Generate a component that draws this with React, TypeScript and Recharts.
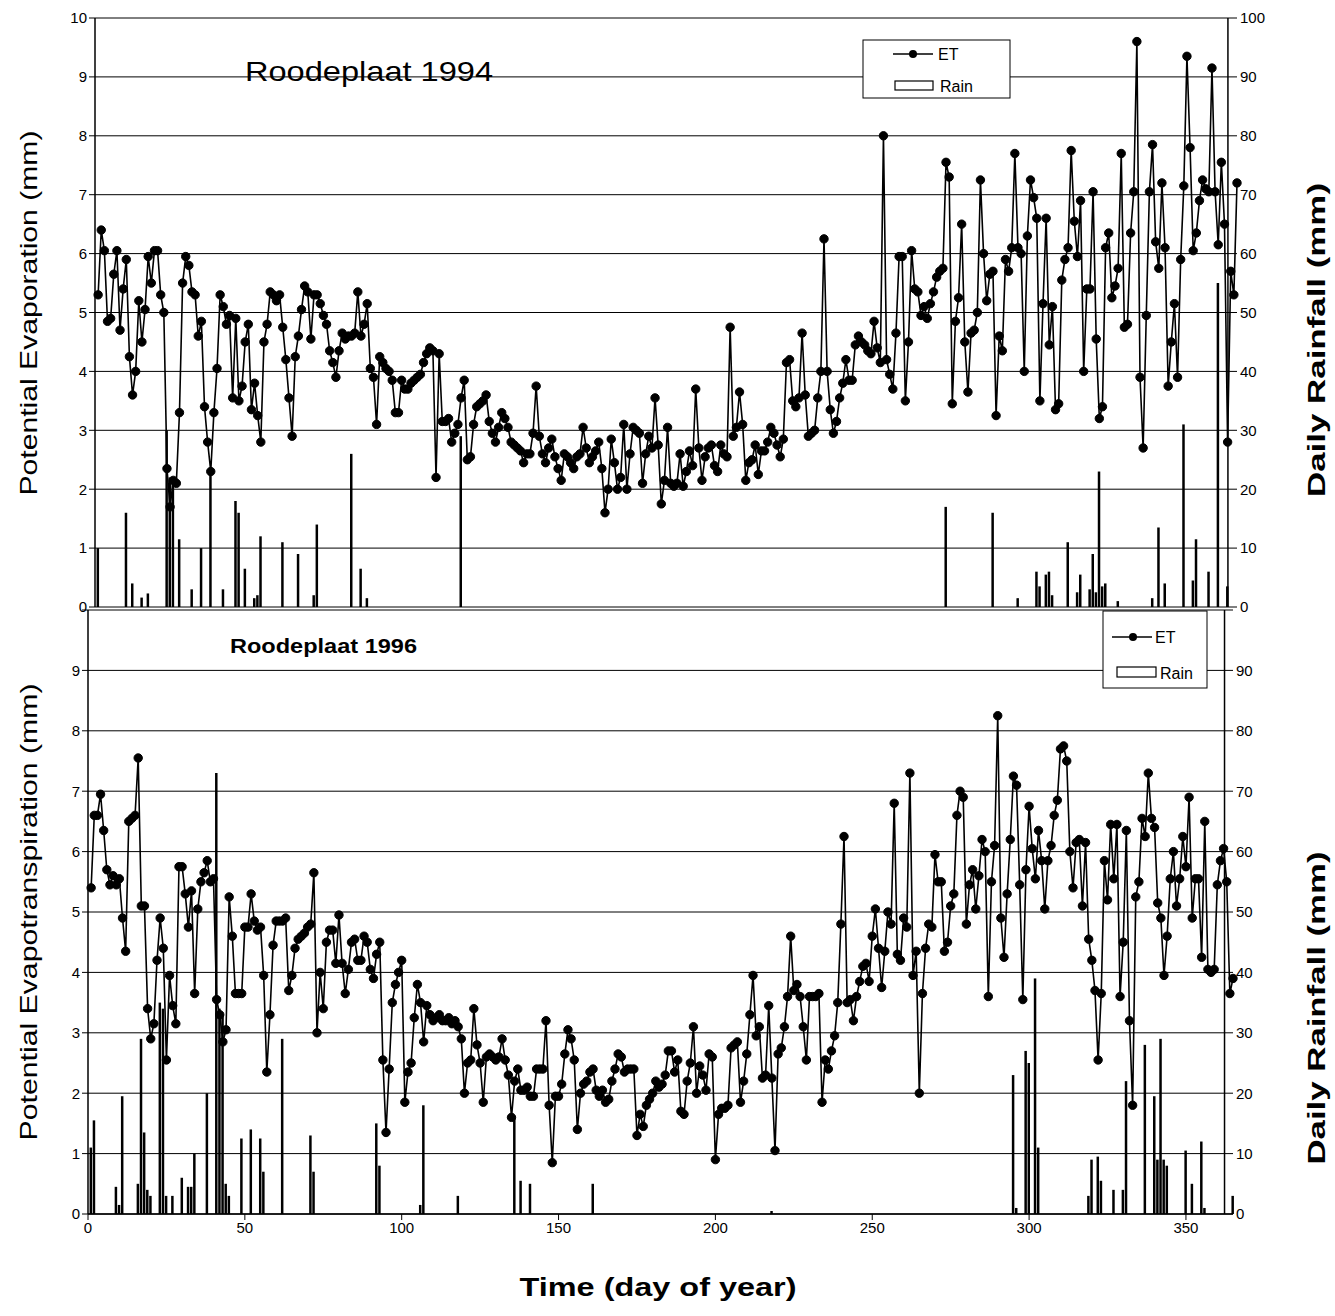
import React from 'react';
import { ComposedChart, Line, Bar, XAxis, YAxis, CartesianGrid, ReferenceLine } from 'recharts';

const FONT = "'Liberation Sans', Arial, sans-serif";

// Roodeplaat 1994 – potential evaporation (mm), day 1..365
const et1994: number[] = [
  5.3, 6.4, 6.05, 4.85, 4.9, 5.65, 6.05, 4.7, 5.4, 5.9,
  4.25, 3.6, 4.0, 5.2, 4.5, 5.05, 5.95, 5.5, 6.05, 6.05,
  5.3, 5.0, 2.35, 1.7, 2.15, 2.1, 3.3, 5.5, 5.95, 5.8,
  5.35, 5.3, 4.6, 4.85, 3.4, 2.8, 2.3, 3.3, 4.05, 5.3,
  5.1, 4.8, 4.95, 3.55, 4.9, 3.5, 3.75, 4.5, 4.8, 3.35,
  3.8, 3.25, 2.8, 4.5, 4.8, 5.35, 5.3, 5.2, 5.3, 4.75,
  4.2, 3.55, 2.9, 4.25, 4.6, 5.05, 5.45, 5.35, 4.55, 5.3,
  5.3, 5.15, 4.95, 4.8, 4.35, 4.15, 3.9, 4.35, 4.65, 4.55,
  4.6, 4.6, 4.65, 5.35, 4.6, 4.8, 5.15, 4.05, 3.9, 3.1,
  4.25, 4.15, 4.05, 4.0, 3.85, 3.3, 3.3, 3.85, 3.7, 3.7,
  3.8, 3.85, 3.9, 3.95, 4.15, 4.3, 4.4, 4.35, 2.2, 4.3,
  3.15, 3.15, 3.2, 2.8, 2.95, 3.1, 3.55, 3.85, 2.5, 2.55,
  3.1, 3.4, 3.45, 3.5, 3.6, 3.15, 2.95, 2.8, 3.05, 3.3,
  3.2, 3.05, 2.8, 2.75, 2.7, 2.65, 2.45, 2.6, 2.6, 2.95,
  3.75, 2.9, 2.6, 2.45, 2.7, 2.85, 2.55, 2.35, 2.15, 2.6,
  2.55, 2.45, 2.35, 2.55, 2.6, 3.05, 2.7, 2.45, 2.55, 2.65,
  2.8, 2.35, 1.6, 2.0, 2.85, 2.45, 2.0, 2.2, 3.1, 2.0,
  2.6, 3.05, 3.0, 2.95, 2.1, 2.6, 2.9, 2.7, 3.55, 2.75,
  1.75, 2.15, 3.05, 2.1, 2.05, 2.1, 2.6, 2.05, 2.3, 2.65,
  2.4, 3.7, 2.7, 2.15, 2.55, 2.7, 2.75, 2.4, 2.3, 2.75,
  2.6, 2.55, 4.75, 2.9, 3.05, 3.65, 3.1, 2.15, 2.45, 2.5,
  2.75, 2.25, 2.65, 2.65, 2.8, 3.05, 2.95, 2.75, 2.55, 2.85,
  4.15, 4.2, 3.5, 3.4, 3.55, 4.65, 3.6, 2.9, 2.95, 3.0,
  3.55, 4.0, 6.25, 4.0, 3.35, 2.95, 3.15, 3.55, 3.8, 4.2,
  3.85, 3.85, 4.45, 4.6, 4.5, 4.45, 4.35, 4.3, 4.85, 4.4,
  4.15, 8.0, 4.2, 3.95, 3.7, 4.65, 5.95, 5.95, 3.5, 4.5,
  6.05, 5.4, 5.35, 4.95, 5.1, 4.9, 5.15, 5.35, 5.6, 5.7,
  5.75, 7.55, 7.3, 3.45, 4.85, 5.25, 6.5, 4.5, 3.65, 4.65,
  4.7, 5.0, 7.25, 6.0, 5.2, 5.65, 5.7, 3.25, 4.6, 4.35,
  5.9, 5.7, 6.1, 7.7, 6.1, 6.0, 4.0, 6.3, 7.25, 6.95,
  6.6, 3.5, 5.15, 6.6, 4.45, 5.1, 3.35, 3.45, 5.55, 5.9,
  6.1, 7.75, 6.55, 5.95, 6.9, 4.0, 5.4, 5.4, 7.05, 4.55,
  3.2, 3.4, 6.1, 6.35, 5.25, 5.45, 5.75, 7.7, 4.75, 4.8,
  6.35, 7.05, 9.6, 3.9, 2.7, 4.95, 7.05, 7.85, 6.2, 5.75,
  7.2, 6.1, 3.75, 4.5, 5.15, 3.9, 5.9, 7.15, 9.35, 7.8,
  6.05, 6.35, 6.9, 7.25, 7.1, 7.05, 9.15, 7.05, 6.15, 7.55,
  6.5, 2.8, 5.7, 5.3, 7.2,
];

const rain1994Days: number[] = [
  1, 10, 12, 15, 17, 23, 24, 25, 27, 31, 34, 37, 41, 45, 46, 48, 51, 52, 53, 60,
  65, 70, 71, 82, 85, 87, 117, 272, 287, 295, 301, 302, 304, 305, 306, 311, 314, 315, 318, 319,
  320, 321, 322, 323, 327, 338, 340, 342, 348, 351, 352, 356, 359, 362,
];
const rain1994Mm: number[] = [
  10, 16, 4, 1.6, 2.3, 30, 22, 21, 11.5, 3, 10, 23, 3, 18, 16, 6.5, 1.5, 2, 12, 11,
  9, 2, 14, 26, 6.5, 1.5, 29, 17, 16, 1.5, 6, 3.5, 5.5, 6, 2, 11, 2.5, 5.5, 3, 9,
  2.5, 23, 3.5, 4, 1, 1.5, 13.5, 4, 31, 4.5, 11.5, 6, 55, 3.5,
];

// Roodeplaat 1996 – potential evapotranspiration (mm), day 1..365
const et1996: number[] = [
  5.4, 6.6, 6.6, 6.95, 6.35, 5.7, 5.45, 5.6, 5.45, 5.55,
  4.9, 4.35, 6.5, 6.55, 6.6, 7.55, 5.1, 5.1, 3.4, 2.9,
  3.15, 4.2, 4.9, 4.4, 2.55, 3.95, 3.45, 3.15, 5.75, 5.75,
  5.3, 4.75, 5.35, 3.65, 5.05, 5.5, 5.65, 5.85, 5.5, 5.55,
  3.55, 3.3, 2.85, 3.05, 5.25, 4.6, 3.65, 3.65, 3.65, 4.75,
  4.75, 5.3, 4.85, 4.7, 4.75, 3.95, 2.35, 3.3, 4.45, 4.85,
  4.85, 4.85, 4.9, 3.7, 3.95, 4.4, 4.55, 4.6, 4.65, 4.75,
  4.8, 5.65, 3.0, 4.0, 3.4, 4.5, 4.7, 4.7, 4.15, 4.95,
  4.15, 3.65, 4.05, 4.5, 4.55, 4.2, 4.2, 4.6, 4.5, 4.05,
  3.9, 4.3, 4.5, 2.55, 1.35, 2.4, 3.5, 3.8, 4.0, 4.2,
  1.85, 2.35, 2.5, 3.25, 3.8, 3.5, 2.85, 3.45, 3.3, 3.2,
  3.25, 3.3, 3.2, 3.2, 3.25, 3.15, 3.2, 3.1, 2.9, 2.0,
  2.5, 2.55, 3.4, 2.8, 2.5, 1.85, 2.6, 2.65, 2.6, 2.55,
  2.6, 2.9, 2.55, 2.3, 1.6, 2.2, 2.4, 2.05, 2.05, 2.1,
  1.95, 1.95, 2.4, 2.4, 2.4, 3.2, 1.8, 0.85, 1.95, 1.95,
  2.15, 2.65, 3.05, 2.9, 2.55, 1.4, 2.0, 2.15, 2.2, 2.35,
  2.4, 2.05, 1.95, 2.05, 1.85, 1.9, 2.2, 2.4, 2.65, 2.6,
  2.35, 2.4, 2.4, 2.4, 1.3, 1.65, 1.45, 1.8, 1.9, 2.0,
  2.2, 2.1, 2.15, 2.3, 2.7, 2.7, 2.35, 2.55, 1.7, 1.65,
  2.2, 2.5, 3.1, 2.0, 2.45, 2.3, 2.05, 2.65, 2.6, 0.9,
  1.65, 1.75, 1.75, 1.8, 2.75, 2.8, 2.85, 1.85, 2.2, 2.65,
  3.3, 3.95, 2.95, 3.1, 2.25, 2.3, 3.45, 2.25, 1.05, 2.65,
  2.75, 3.1, 3.6, 4.6, 3.7, 3.8, 3.6, 3.1, 2.55, 3.6,
  3.6, 3.6, 3.65, 1.85, 2.55, 2.4, 2.7, 2.95, 3.5, 4.8,
  6.25, 3.5, 3.55, 3.2, 3.6, 3.85, 4.1, 4.15, 3.85, 4.6,
  5.05, 4.4, 3.75, 4.35, 5.0, 4.8, 6.8, 4.3, 4.2, 4.9,
  4.75, 7.3, 3.95, 4.35, 2.0, 3.65, 4.4, 4.8, 4.75, 5.95,
  5.5, 5.5, 4.35, 4.5, 5.1, 5.3, 6.6, 7.0, 6.9, 4.8,
  5.45, 5.7, 5.05, 5.6, 6.2, 6.0, 3.6, 5.5, 6.1, 8.25,
  4.9, 4.25, 5.3, 6.2, 7.25, 7.1, 5.45, 3.55, 5.7, 6.75,
  6.05, 5.55, 6.35, 5.85, 5.05, 5.85, 6.1, 6.6, 6.85, 7.7,
  7.75, 7.5, 6.0, 5.4, 6.15, 6.2, 5.1, 6.15, 4.55, 4.2,
  3.7, 2.55, 3.65, 5.85, 5.2, 6.45, 5.55, 6.45, 3.6, 4.5,
  6.35, 3.2, 1.8, 5.25, 5.5, 6.55, 6.25, 7.3, 6.55, 6.4,
  5.15, 4.9, 3.95, 4.6, 5.55, 6.0, 5.1, 5.55, 6.25, 5.75,
  6.9, 4.9, 5.55, 5.55, 4.25, 6.5, 4.05, 4.0, 4.05, 5.45,
  5.85, 6.05, 5.5, 3.65, 3.9,
];

const rain1996Days: number[] = [
  1, 2, 9, 10, 11, 16, 17, 18, 19, 20, 23, 24, 25, 27, 30, 32, 33, 34, 38, 41,
  42, 43, 44, 45, 49, 52, 55, 56, 62, 71, 72, 92, 93, 106, 107, 118, 136, 138, 141, 161,
  218, 295, 296, 299, 300, 302, 303, 319, 320, 322, 323, 327, 330, 331, 337, 340, 341, 342, 343, 344,
  350, 352, 355, 356, 365,
];
const rain1996Mm: number[] = [
  11, 15.5, 4.5, 1.5, 19.5, 5, 29, 13.5, 4, 3, 35, 34, 3, 3, 6, 4.5, 4.5, 10, 20, 73,
  34, 33, 5, 3, 12.5, 14, 12.5, 7, 29, 13, 7, 15, 8, 1.5, 18, 3, 16, 5.5, 5, 5,
  0.5, 23, 1, 27, 25, 39, 11, 3, 9, 9.5, 5.5, 4, 4, 22, 28, 19.5, 9, 29, 9, 8,
  10.5, 5, 12, 1, 3,
];

const leftTicks = [0, 1, 2, 3, 4, 5, 6, 7, 8, 9, 10];
const rightTicks = [0, 10, 20, 30, 40, 50, 60, 70, 80, 90, 100];
const xTicks = [0, 50, 100, 150, 200, 250, 300, 350];

function buildRows(et: number[], rd: number[], rm: number[]) {
  const m = new Map<number, number>();
  rd.forEach((d, i) => m.set(d, rm[i]));
  return et.map((v, i) => ({ day: i + 1, et: v, rain: m.has(i + 1) ? m.get(i + 1) : null }));
}

const rows1994 = buildRows(et1994, rain1994Days, rain1994Mm);
const rows1996 = buildRows(et1996, rain1996Days, rain1996Mm);

const tickStyle = { fontSize: 15, fill: '#000', fontFamily: FONT };

function Panel(props: {
  rows: any[];
  width: number;
  height: number;
  margin: any;
  showX: boolean;
  hideTop: boolean;
  frameX: number;
}) {
  const { rows, width, height, margin, showX, hideTop, frameX } = props;
  return (
    <ComposedChart width={width} height={height} data={rows} margin={margin}>
      <CartesianGrid yAxisId="left" vertical={false} stroke="#000" strokeWidth={1} />
      <XAxis
        dataKey="day"
        type="number"
        domain={[0, 365]}
        ticks={xTicks}
        hide={!showX}
        height={30}
        tick={tickStyle}
        tickLine={{ stroke: '#000' }}
        axisLine={{ stroke: '#000', strokeWidth: 1.5 }}
        interval={0}
      />
      <YAxis
        yAxisId="left"
        domain={[0, 10]}
        ticks={leftTicks}
        width={40}
        tick={tickStyle}
        tickLine={{ stroke: '#000' }}
        axisLine={{ stroke: '#000', strokeWidth: 1.5 }}
        interval={0}
        tickFormatter={(v: number) => (hideTop && v === 10 ? '' : String(v))}
      />
      <YAxis
        yAxisId="right"
        orientation="right"
        domain={[0, 100]}
        ticks={rightTicks}
        width={40}
        tick={{ ...tickStyle, dx: -5 }}
        tickLine={false}
        axisLine={false}
        interval={0}
        tickFormatter={(v: number) => (hideTop && v === 100 ? '' : String(v))}
      />
      <ReferenceLine x={frameX} yAxisId="left" stroke="#000" strokeWidth={1.5} />
      <Bar
        yAxisId="right"
        dataKey="rain"
        fill="#000"
        barSize={2.5}
        isAnimationActive={false}
      />
      <Line
        yAxisId="left"
        dataKey="et"
        type="linear"
        stroke="#000"
        strokeWidth={1.6}
        dot={{ r: 4.2, fill: '#000', stroke: '#000', strokeWidth: 1 }}
        isAnimationActive={false}
      />
    </ComposedChart>
  );
}

export default function App() {
  return (
    <div style={{ position: 'absolute', left: 0, top: 0, width: 1335, height: 1316, background: '#fff' }}>
      <div style={{ position: 'absolute', left: 0, top: 0 }}>
        <Panel
          rows={rows1994}
          width={1335}
          height={622}
          margin={{ top: 18, right: 58, bottom: 15, left: 55 }}
          showX={false}
          hideTop={false}
          frameX={362.1}
        />
      </div>
      <div style={{ position: 'absolute', left: 0, top: 598 }}>
        <Panel
          rows={rows1996}
          width={1335}
          height={656}
          margin={{ top: 12, right: 62, bottom: 10, left: 48 }}
          showX={true}
          hideTop={true}
          frameX={362.3}
        />
      </div>
      <svg
        width={1335}
        height={1316}
        style={{ position: 'absolute', left: 0, top: 0, pointerEvents: 'none' }}
        fontFamily={FONT}
      >
        <text x={245} y={81} fontSize={28} textLength={248} lengthAdjust="spacingAndGlyphs" fill="#000">
          Roodeplaat 1994
        </text>
        <text x={230} y={653} fontSize={20} fontWeight="bold" textLength={187} lengthAdjust="spacingAndGlyphs" fill="#000">
          Roodeplaat 1996
        </text>
        <text
          transform="translate(37,313) rotate(-90)"
          textAnchor="middle"
          fontSize={24}
          textLength={365}
          lengthAdjust="spacingAndGlyphs"
          fill="#000"
        >
          Potential Evaporation (mm)
        </text>
        <text
          transform="translate(37,912) rotate(-90)"
          textAnchor="middle"
          fontSize={24}
          textLength={457}
          lengthAdjust="spacingAndGlyphs"
          fill="#000"
        >
          Potential Evapotranspiration (mm)
        </text>
        <text
          transform="translate(1325,340) rotate(-90)"
          textAnchor="middle"
          fontSize={24}
          fontWeight="bold"
          textLength={314}
          lengthAdjust="spacingAndGlyphs"
          fill="#000"
        >
          Daily Rainfall (mm)
        </text>
        <text
          transform="translate(1325,1008) rotate(-90)"
          textAnchor="middle"
          fontSize={24}
          fontWeight="bold"
          textLength={313}
          lengthAdjust="spacingAndGlyphs"
          fill="#000"
        >
          Daily Rainfall (mm)
        </text>
        <text x={658} y={1296} textAnchor="middle" fontSize={26} fontWeight="bold" textLength={277} lengthAdjust="spacingAndGlyphs" fill="#000">
          Time (day of year)
        </text>

        {/* legend 1994 */}
        <rect x={863} y={40} width={147} height={58} fill="#fff" stroke="#000" strokeWidth={1} />
        <line x1={893} y1={54} x2={933} y2={54} stroke="#000" strokeWidth={1.5} />
        <circle cx={913} cy={54} r={4} fill="#000" />
        <text x={938} y={60} fontSize={16} fill="#000">ET</text>
        <rect x={895} y={81} width={38} height={9} fill="#fff" stroke="#000" strokeWidth={1.2} />
        <text x={940} y={92} fontSize={16} fill="#000">Rain</text>

        {/* legend 1996 */}
        <rect x={1103} y={611} width={104} height={77} fill="#fff" stroke="#000" strokeWidth={1} />
        <line x1={1112} y1={637} x2={1152} y2={637} stroke="#000" strokeWidth={1.5} />
        <circle cx={1133} cy={637} r={4} fill="#000" />
        <text x={1155} y={643} fontSize={16} fill="#000">ET</text>
        <rect x={1117} y={667} width={39} height={10} fill="#fff" stroke="#000" strokeWidth={1.2} />
        <text x={1160} y={679} fontSize={16} fill="#000">Rain</text>
      </svg>
    </div>
  );
}
